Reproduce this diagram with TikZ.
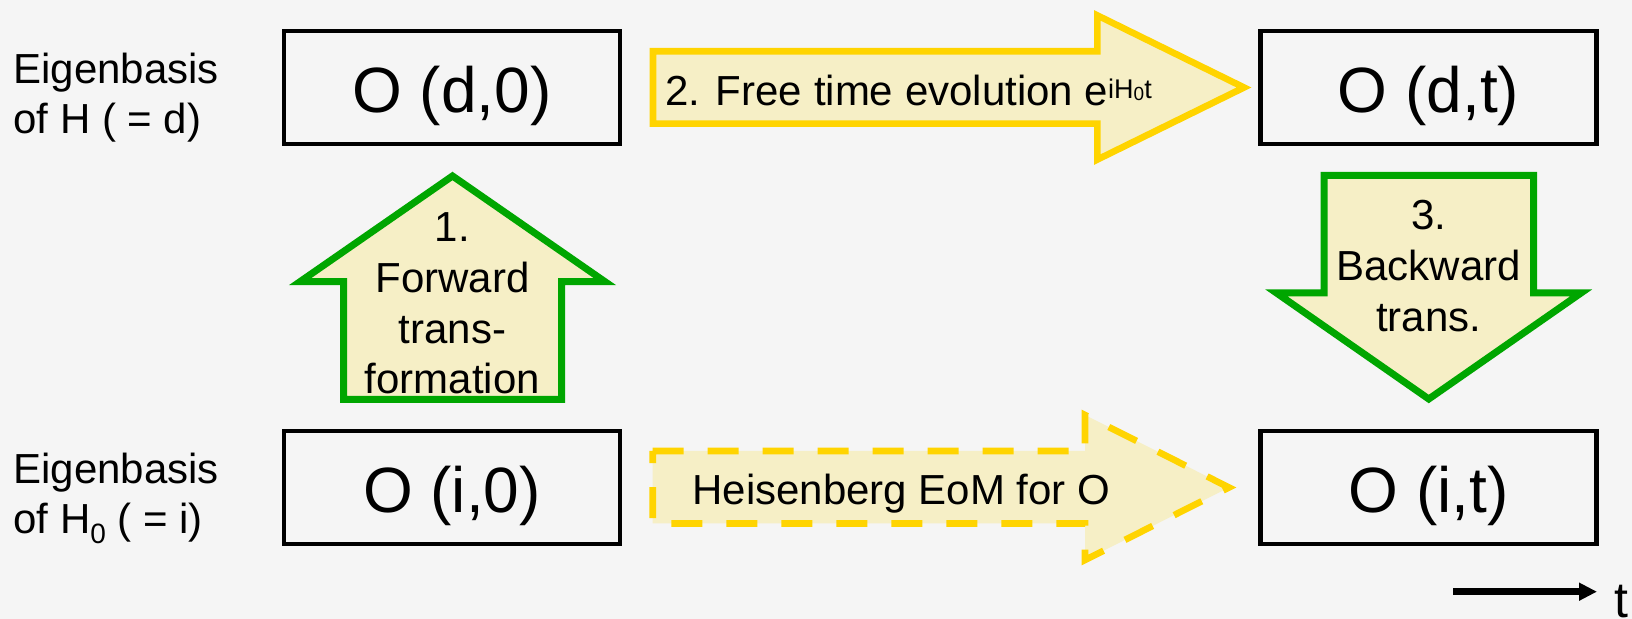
\documentclass[tikz,border=0pt]{standalone}
\usepackage{fontspec}
\setmainfont{Liberation Sans}
\usetikzlibrary{arrows.meta}
\definecolor{bgc}{RGB}{245,245,245}
\definecolor{goldc}{RGB}{255,212,0}
\definecolor{palec}{RGB}{246,239,198}
\definecolor{grnc}{RGB}{0,166,0}
\begin{document}
\begin{tikzpicture}[x=0.5pt,y=-0.5pt,
  box/.style={draw=black,line width=2.2pt,minimum width=168pt,minimum height=56.5pt,
    inner sep=0pt,font=\fontsize{32}{38}\selectfont,text height=25.5pt,text depth=0pt},
  lbl/.style={inner sep=0pt,anchor=base west,font=\fontsize{21}{25.3}\selectfont},
  arrtext/.style={inner sep=0pt,anchor=base,font=\fontsize{21}{25.3}\selectfont},
  greenarrow/.style={draw=grnc,fill=palec,line width=3.5pt,line join=miter},
  yellowarrow/.style={draw=goldc,fill=palec,line width=3.3pt,line join=miter},
  dasharrow/.style={yellowarrow,dash pattern=on 15.5pt off 12pt},
  taxis/.style={line width=3.3pt,-{Triangle[length=9pt,width=8.5pt]}}]
\fill[bgc] (0,0) rectangle (1632,619);
\useasboundingbox (0,0) rectangle (1632,619);

% boxes
\node[box] (d0) at (452,87.5) {O (d,0)};
\node[box] (dt) at (1428.5,87.5) {O (d,t)};
\node[box] (i0) at (452,487.5) {O (i,0)};
\node[box] (it) at (1428.5,487.5) {O (i,t)};

% left labels
\node[lbl] (labd) at (13,83.3) {\begin{tabular}[t]{@{}l@{}}Eigenbasis\\of H ( = d)\end{tabular}};
\node[lbl] (labi) at (13,483.3) {\begin{tabular}[t]{@{}l@{}}Eigenbasis\\of H\raisebox{-5pt}{\fontsize{14}{14}\selectfont 0} ( = i)\end{tabular}};

% 2. free time evolution arrow
\draw[yellowarrow] (653,51.3) -- (1097.3,51.3) -- (1097.3,15.4) -- (1244,87.5)
  -- (1097.3,159.6) -- (1097.3,123.7) -- (653,123.7) -- cycle;
\node[lbl] (free) at (665,105.5) {2. Free time evolution e\raisebox{3.6pt}{\fontsize{13.5}{13.5}\selectfont iH\raisebox{-0.9pt}{\fontsize{9.5}{9.5}\selectfont 0}t}};

% Heisenberg dashed arrow
\draw[dasharrow] (652.7,451) -- (1085,451) -- (1085,415) -- (1229,487.5)
  -- (1085,560) -- (1085,523.5) -- (652.7,523.5) -- cycle;
\node[lbl] (heis) at (692,505) {Heisenberg EoM for O};

% 1. forward transformation arrow
\draw[greenarrow] (343.5,399.5) -- (343.5,281.7) -- (300,281.7) -- (452.5,176)
  -- (605,281.7) -- (561.5,281.7) -- (561.5,399.5) -- cycle;
\node[arrtext] (fwd) at (452.5,242) {\begin{tabular}[t]{@{}c@{}}1.\\Forward\\trans-\\formation\end{tabular}};

% 3. backward transformation arrow
\draw[greenarrow] (1324,175.5) -- (1533.5,175.5) -- (1533.5,293) -- (1581,293)
  -- (1428.75,399) -- (1276.5,293) -- (1324,293) -- cycle;
\node[arrtext] (bwd) at (1428.75,230) {\begin{tabular}[t]{@{}c@{}}3.\\Backward\\trans.\end{tabular}};

% time axis
\coordinate (ts) at (1453,591.7);
\coordinate (te) at (1597,591.7);
\draw[taxis] (ts) -- (te);
\node[inner sep=0pt,anchor=base west,font=\fontsize{25}{30}\selectfont] (tlab) at (1614,617) {t};
\end{tikzpicture}
\end{document}
